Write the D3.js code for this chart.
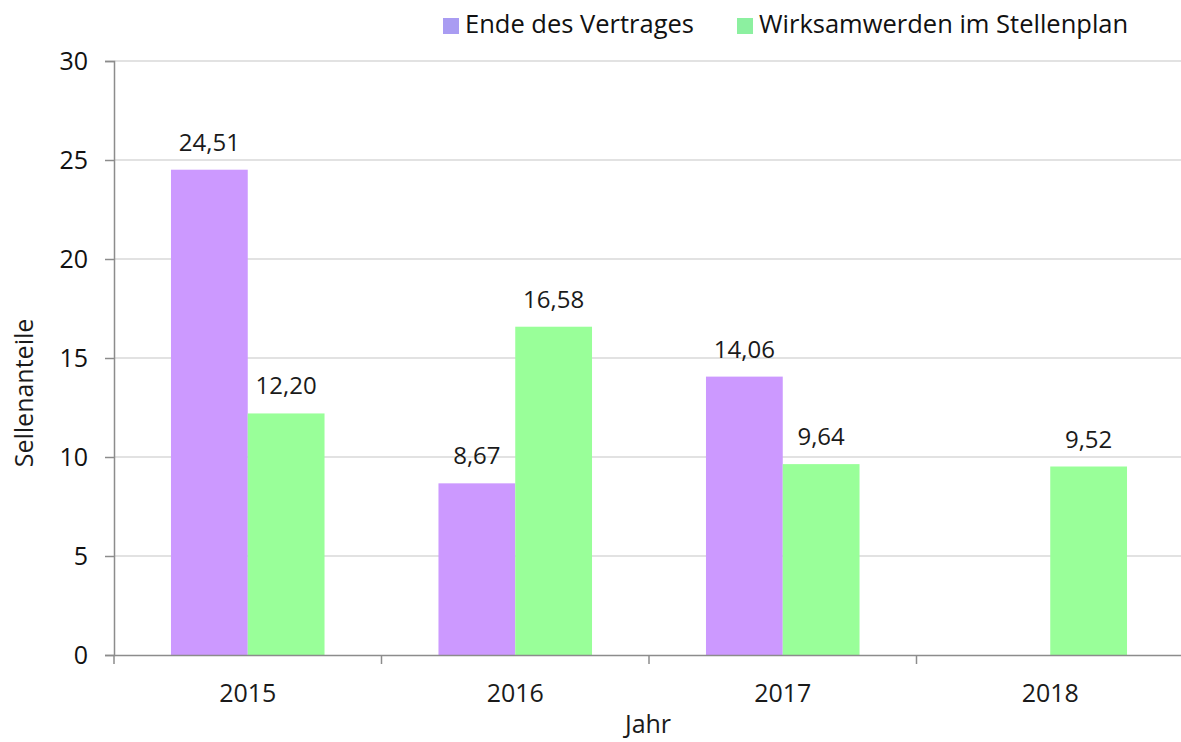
<!DOCTYPE html>
<html>
<head>
<meta charset="utf-8">
<script src="https://cdn.jsdelivr.net/npm/d3@7"></script>
<style>
  body { margin: 0; background: #fff; }
  svg { display: block; font-family: "Open Sans", "Noto Sans", sans-serif; }
</style>
</head>
<body>
<div id="chart"></div>
<script>
// Data
const years = ["2015", "2016", "2017", "2018"];
const seriesNames = ["Ende des Vertrages", "Wirksamwerden im Stellenplan"];
const endeDesVertrages = [24.51, 8.67, 14.06, null];
const wirksamwerden = [12.20, 16.58, 9.64, 9.52];
const yTicks = [0, 5, 10, 15, 20, 25, 30];

const colors = ["#cc99ff", "#99ff99"];
const legendColors = ["#a99cf2", "#8cf0a0"];
const fontFamily = "\"Open Sans\", \"Noto Sans\", sans-serif";

const width = 1181, height = 742;
const margin = { top: 61, right: -3, bottom: 87, left: 114 };
const innerW = width - margin.left - margin.right;
const innerH = height - margin.top - margin.bottom;

const svg = d3.select("#chart")
  .append("svg")
  .attr("width", width)
  .attr("height", height);

const g = svg.append("g")
  .attr("transform", `translate(${margin.left},${margin.top})`);

// Scales
const x = d3.scaleBand().domain(years).range([0, innerW]).padding(0);
const xSub = d3.scaleBand()
  .domain(seriesNames)
  .range([x.bandwidth() * 0.213, x.bandwidth() * 0.787])
  .padding(0);
const y = d3.scaleLinear().domain([0, 30]).range([innerH, 0]);

// Gridlines
g.append("g")
  .selectAll("line")
  .data(yTicks.filter(d => d > 0))
  .join("line")
  .attr("x1", 0)
  .attr("x2", innerW)
  .attr("y1", d => y(d))
  .attr("y2", d => y(d))
  .attr("stroke", "#d9d9d9")
  .attr("stroke-width", 1.5);

// Bars
const data = years.map((yr, i) => ({
  year: yr,
  values: [
    { key: seriesNames[0], value: endeDesVertrages[i], color: colors[0] },
    { key: seriesNames[1], value: wirksamwerden[i], color: colors[1] }
  ].filter(v => v.value != null)
}));

const fmt = d3.formatLocale({ decimal: ",", thousands: ".", grouping: [3], currency: ["", "€"] }).format(".2f");

const groups = g.selectAll(".grp")
  .data(data)
  .join("g")
  .attr("class", "grp")
  .attr("transform", d => `translate(${x(d.year)},0)`);

groups.selectAll("rect")
  .data(d => d.values)
  .join("rect")
  .attr("x", d => xSub(d.key))
  .attr("width", xSub.bandwidth())
  .attr("y", d => y(d.value))
  .attr("height", d => innerH - y(d.value))
  .attr("fill", d => d.color);

groups.selectAll("text")
  .data(d => d.values)
  .join("text")
  .attr("x", d => xSub(d.key) + xSub.bandwidth() / 2)
  .attr("y", d => y(d.value) - 19)
  .attr("text-anchor", "middle")
  .style("font-size", "24px")
  .attr("fill", "#1a1a1a")
  .text(d => fmt(d.value));

// Y axis
const yAxis = g.append("g")
  .call(d3.axisLeft(y).tickValues(yTicks).tickSize(9).tickPadding(17));
yAxis.attr("font-family", null);
yAxis.select(".domain").attr("stroke", "#8c8c8c").attr("stroke-width", 1.5);
yAxis.selectAll(".tick line").attr("stroke", "#8c8c8c").attr("stroke-width", 1.5);
yAxis.selectAll("text")
  .style("font-family", fontFamily)
  .style("font-size", "25px")
  .attr("fill", "#111");

// X axis
const xAxis = g.append("g")
  .attr("transform", `translate(0,${innerH})`)
  .call(d3.axisBottom(x).tickSize(0).tickPadding(29));
xAxis.attr("font-family", null);
xAxis.select(".domain").attr("stroke", "#8c8c8c").attr("stroke-width", 1.5);
xAxis.selectAll("text")
  .style("font-family", fontFamily)
  .style("font-size", "25px")
  .attr("fill", "#1a1a1a");

// tick marks between categories
xAxis.append("g")
  .selectAll("line")
  .data(d3.range(years.length))
  .join("line")
  .attr("x1", i => x(years[i]))
  .attr("x2", i => x(years[i]))
  .attr("y1", 0)
  .attr("y2", 9)
  .attr("stroke", "#8c8c8c")
  .attr("stroke-width", 1.5);

// Axis titles
svg.append("text")
  .attr("x", 648)
  .attr("y", 733)
  .attr("text-anchor", "middle")
  .style("font-size", "25px")
  .attr("fill", "#1a1a1a")
  .text("Jahr");

svg.append("text")
  .attr("transform", `translate(33,393) rotate(-90)`)
  .attr("text-anchor", "middle")
  .style("font-size", "25px")
  .attr("fill", "#1a1a1a")
  .text("Sellenanteile");

// Legend
const legend = svg.append("g").attr("transform", "translate(443,18)");
const legendX = [0, 294];
seriesNames.forEach((name, i) => {
  const item = legend.append("g").attr("transform", `translate(${legendX[i]},0)`);
  item.append("rect")
    .attr("x", 0)
    .attr("y", 0)
    .attr("width", 16)
    .attr("height", 16)
    .attr("fill", legendColors[i]);
  item.append("text")
    .attr("x", 22)
    .attr("y", 15)
    .style("font-size", "25.5px")
    .attr("fill", "#111")
    .text(name);
});
</script>
</body>
</html>
